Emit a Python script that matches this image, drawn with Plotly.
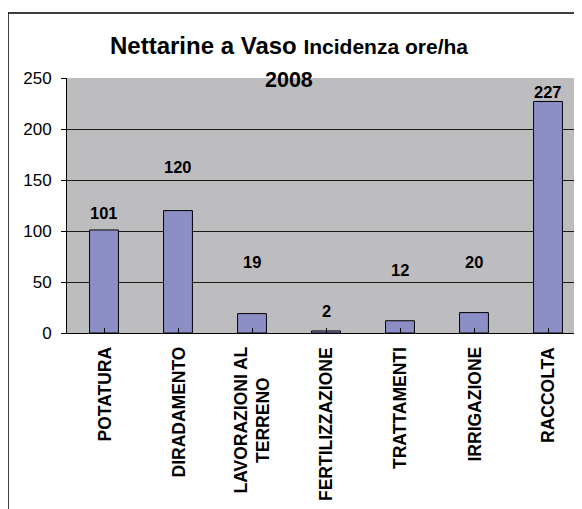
import plotly.graph_objects as go

categories = ["POTATURA", "DIRADAMENTO", "LAVORAZIONI AL<br>TERRENO", "FERTILIZZAZIONE",
              "TRATTAMENTI", "IRRIGAZIONE", "RACCOLTA"]
values = [101, 120, 19, 2, 12, 20, 227]
# where each value label sits (in axis units), as placed in the original
label_pos = [118, 163, 70, 22, 62, 70, 236]
y_ticks = [0, 50, 100, 150, 200, 250]

FONT = "Liberation Sans, Arial, sans-serif"
W, H = 582, 509
OFF = 8  # page body margin offset of the figure div
# screen-space plot area: x 67..585, y 78..333
ML = 67 - OFF
MT = 78 - OFF
PB = 333 - OFF
MR = W - (585 - OFF)
MB = H - PB
PW = W - ML - MR
PH = PB - MT

def sx(px):  # screen x -> paper
    return (px - OFF - ML) / PW

def sy(py):  # screen y -> paper
    return (PB - (py - OFF)) / PH

fig = go.Figure()
fig.add_trace(go.Bar(
    x=list(range(len(categories))), y=values,
    marker=dict(color="#8c8fc6", line=dict(color="#000000", width=1)),
    width=0.39, hoverinfo="skip",
))

for i, (v, p) in enumerate(zip(values, label_pos)):
    fig.add_annotation(x=i, y=p, text=f"<b>{v}</b>", showarrow=False,
                       font=dict(family=FONT, size=16.5, color="#000"),
                       xref="x", yref="y")

# category labels, rotated, centred lines, hanging from below the axis
for i, c in enumerate(categories):
    fig.add_annotation(x=i, y=sy(345), xref="x", yref="paper", text=f"<b>{c}</b>",
                       textangle=-90, showarrow=False, align="center",
                       xanchor="center", yanchor="top",
                       font=dict(family=FONT, size=17.5, color="#000"))

# Titles
fig.add_annotation(x=sx(289), y=sy(45), xref="paper", yref="paper",
                   text="<b>Nettarine a Vaso</b> <b><span style='font-size:21px'>Incidenza ore/ha</span></b>",
                   showarrow=False, font=dict(family=FONT, size=24, color="#000"),
                   xanchor="center", yanchor="middle")
fig.add_annotation(x=sx(289), y=sy(80), xref="paper", yref="paper",
                   text="<b>2008</b>", showarrow=False,
                   font=dict(family=FONT, size=21.5, color="#000"),
                   xanchor="center", yanchor="middle")

# outer chart border
fig.add_shape(type="rect", xref="paper", yref="paper",
              x0=sx(8), x1=sx(W + 40),
              y0=sy(H + 40), y1=sy(13),
              line=dict(color="#000", width=1.5), fillcolor="rgba(0,0,0,0)", layer="below")

fig.update_layout(
    width=W, height=H,
    margin=dict(l=ML, r=MR, t=MT, b=MB, autoexpand=False),
    paper_bgcolor="white", plot_bgcolor="#bdbdbf",
    showlegend=False,
    bargap=0.6,
    xaxis=dict(
        tickmode="array", tickvals=list(range(len(categories))),
        showticklabels=False,
        range=[-0.5, 6.5],
        ticks="inside", ticklen=5, tickcolor="#000", tickson="boundaries",
        showline=True, linecolor="#000", linewidth=1, showgrid=False,
    ),
    yaxis=dict(
        range=[0, 250], tickvals=y_ticks,
        tickfont=dict(family=FONT, size=17, color="#000"),
        ticks="outside", ticklen=5, tickcolor="#000",
        showline=True, linecolor="#000", linewidth=1,
        showgrid=True, gridcolor="#1a1a1a", gridwidth=1,
        zeroline=False, ticklabelstandoff=6,
    ),
)

fig.write_html("out.html")
